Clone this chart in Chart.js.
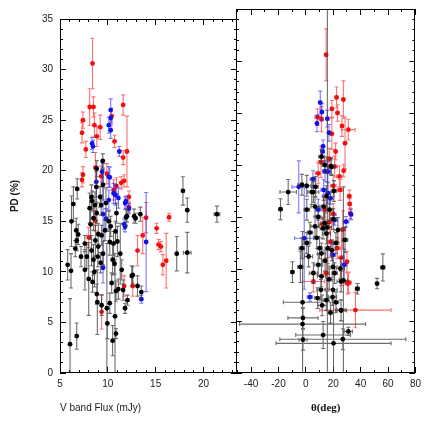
<!DOCTYPE html>
<html><head><meta charset="utf-8">
<script src="https://cdn.jsdelivr.net/npm/chart.js@4.4.0/dist/chart.umd.min.js"></script>
<style>
html,body{margin:0;padding:0;background:#fff;}
#wrap{position:relative;width:432px;height:432px;background:#fff;}
canvas{position:absolute;left:0;top:0;}
</style></head><body>
<div id="wrap"><canvas id="left" width="432" height="432"></canvas><canvas id="right" width="432" height="432"></canvas></div>
<script>
// ---- axis ticks ----
const pdTicks = [0, 5, 10, 15, 20, 25, 30, 35];
const pdMinor = [1,2,3,4,6,7,8,9,11,12,13,14,16,17,18,19,21,22,23,24,26,27,28,29,31,32,33,34];
const fluxTicks = [5, 10, 15, 20];
const fluxMinor = [6,7,8,9,11,12,13,14,16,17,18,19,21,22,23];
const thetaTicks = [-40, -20, 0, 20, 40, 60, 80];
const thetaMinor = [-50, -30, -10, 10, 30, 50, 70];

// ---- left panel: [flux (mJy), PD (%), flux err, PD err] ----
const fluxBlack = [
[9.47,20.96,0,0.7],[8.84,20.2,0,0.8],[6.8,18.2,0,1.0],[8.8,18.4,0,1.5],[9.5,18.6,0,1.5],
[6.4,16.7,0,1.7],[6.2,15.0,0,2.5],[8.3,17.4,0,1.2],[8.35,17.0,0,1.0],[8.1,16.3,0,1.5],
[8.65,16.6,0,1.3],[9.3,16.6,0,1.0],[8.84,15.8,0,1.0],[8.5,15.3,0,1.2],[8.2,14.7,0,1.5],
[6.7,14.1,0,1.2],[6.9,13.7,0,1.0],[6.75,13.1,0,1.0],[6.6,12.3,0,0.8],[5.8,10.7,0,1.5],
[6.15,10.1,0,1.7],[7.6,12.8,0,0.8],[7.8,11.5,0,1.2],[7.6,10.2,0,2.0],[8.0,9.3,0,3.6],
[8.3,12.1,0,1.5],[8.5,11.2,0,1.5],[8.6,10.0,0,1.5],[8.7,13.1,0,1.5],[9.0,13.75,0,1.0],
[9.35,13.6,0,1.0],[9.5,11.8,0,1.2],[9.25,10.9,0,1.0],[9.7,14.1,0,1.0],[10.1,15.0,0,1.0],
[10.2,12.95,0,1.3],[10.6,12.8,0,1.2],[10.5,11.2,0,1.5],[10.4,8.9,0,1.0],[11.1,8.3,0,1.0],
[11.3,11.8,0,3.0],[8.85,7.8,0,1.0],[8.9,7.0,0,3.2],[9.35,6.7,0,1.0],[9.9,6.4,0,6.4],
[9.95,4.9,0,1.5],[10.2,6.9,0,1.0],[10.75,5.6,0,5.6],[10.5,3.2,0,1.5],[10.85,3.9,0,0.5],
[11.8,6.4,0,0.5],[12.05,7.2,0,0.5],[12.5,9.6,0,1.0],[13.1,8.6,0,1.0],[13.5,8.0,0,0.6],
[6.05,2.85,0,4.5],[6.75,3.65,0,1.3],[12.0,15.5,0,0.6],[12.75,15.5,0,0.7],[13.4,15.7,0,0.7],
[12.9,15.3,0,0.5],[11.9,15.4,0,0.8],[17.85,18.0,0,1.4],[18.3,16.1,0,1.2],[21.4,15.7,0.3,0.8],
[17.2,11.8,0,1.7],[18.3,11.9,0.4,2.0],[11.45,10.2,0,1.0],[10.7,10.8,0,1.0],[10.85,8.1,0,1.0],
[11.6,8.2,0,1.0],[12.6,9.7,0,0.8],[7.2,11.5,0,1.0],[9.2,17.4,0,1.0],[9.8,16.8,0,1.5],
[10.3,14.5,0,1.0],[9.0,12.5,0,1.0],[8.4,9.0,0,1.0],[8.95,11.5,0,1.0],[10.8,14.0,0,1.0],
[11.0,13.0,0,1.5],[10.9,15.8,0,1.0]
];
const fluxRed = [
[8.4,30.6,0,2.5],[8.1,26.3,0,1.8],[8.5,26.3,0,1.0],[7.4,25.0,0,0.8],[7.3,23.75,0,1.0],
[7.7,22.1,0,0.8],[8.6,24.5,0,1.2],[8.85,23.4,0,1.0],[9.2,24.3,0,1.2],[11.6,26.5,0,1.0],
[10.4,25.4,0,0.8],[10.7,22.9,0,0.6],[11.6,21.3,0,0.7],[12.0,21.9,0,3.5],[7.3,19.1,0,0.7],
[7.4,19.6,0,0.8],[8.7,20.3,0,1.5],[9.3,19.45,0,1.0],[9.9,19.7,0,1.0],[11.7,19.0,0,0.6],
[11.4,18.8,0,0.6],[12.2,17.4,0,0.6],[9.35,6.05,0,1.7],[11.7,8.6,0,1.0],[12.6,8.6,0,1.0],
[13.1,12.1,0,1.5],[13.65,13.6,0,1.8],[14.0,15.35,0,1.5],[15.1,14.3,0,0.5],[16.4,15.4,0,0.4],
[15.3,12.7,0,0.5],[15.55,12.5,0,0.5],[15.75,10.7,0,1.0],[16.1,11.1,0,2.7],[10.6,18.1,0,1.0],
[8.7,15.05,0,1.0],[8.0,13.4,0,1.0],[12.2,16.4,0,0.5],[10.9,18.5,0,0.8]
];
const fluxBlue = [
[10.3,26.0,0,1.1],[10.3,25.2,0,0.8],[10.1,24.5,0,0.8],[10.3,24.0,0,0.8],[8.35,22.7,0,0.6],
[8.45,22.4,0,0.6],[11.2,21.9,0,0.5],[8.8,18.9,0,1.5],[9.4,19.9,0,1.0],[10.1,19.4,0,1.0],
[11.9,17.0,0,0.5],[14.0,12.95,0,4.9],[13.5,7.3,0,0.4],[11.8,14.45,0,0.5],[12.2,16.25,0,0.5],
[11.1,17.3,0,1.0],[9.8,15.25,0,1.0],[9.5,15.7,0,5.0],[10.1,17.1,0,1.0],[10.8,17.6,0,1.0],
[10.2,19.35,0,1.0],[10.6,17.75,0,1.0],[11.8,16.8,0,0.6],[11.7,14.7,0,0.5],[9.5,10.4,0,1.5]
];

// ---- right panel: [theta (deg), PD (%), theta err, PD err] ----
const thetaBlack = [
[11.4,20.8,2,0.7],[18.3,19.9,3,0.8],[-2.9,18.1,3,1.0],[0.7,18.0,3,1.0],[5.5,17.4,4,1.0],
[-12.9,17.4,6,1.2],[-18.5,15.75,1,1.0],[-9.8,9.7,1,1.0],[-4,10.2,2,1.5],[-2.9,12.0,2,1.0],
[-2.4,6.8,14,6.8],[-2.4,4.7,46,1.5],[12.6,3.65,20,1.3],[27,3.25,46,1.0],[20.2,2.85,42,4.5],
[-2.1,5.3,11,1.0],[31,4.0,3,0.4],[52,8.6,1,0.5],[56.2,10.15,1.5,1.3],[37.6,8.1,1.5,0.5],
[25.7,6.0,4,1.0],[19.5,7.3,3,0.8],[27.4,8.9,3,9],[28.6,12.8,2,1.2],[15.7,14,3,25],
[0.7,15.7,2,1],[4.3,17.4,3,1.2],[7.1,17.9,2,1],[6.7,16.0,3,1],[13.8,20.0,2,0.8],
[15,17.0,3,1],[18.6,19.8,2,0.8],[17.4,15.7,3,1],[13.8,14.4,3,1],[6.7,14.1,3,1],
[15,13.4,3,1],[23.4,13.75,3,1.2],[0.7,12.5,2,1],[2.0,11.2,3,1],[11.4,11.5,3,1],
[19,11.8,3,1],[19.8,10.2,3,1],[25.2,10.05,3,1],[9,10.4,3,1],[5.5,9.6,3,1],
[11.4,9.3,3,1],[25.7,8.8,3,1],[11,8.0,3,1],[11.9,6.5,3,1],[19.8,8.0,3,1],
[25.7,6.05,3,1],[-2.1,3.2,3,1],[8,13.0,2,1],[9,15.0,2,1],[13,16.0,2,1],
[16,12.0,2,1.5],[20,14.8,2,1],[22,12.5,2,1],[10,12.0,2,1],[14,10.8,2,1],
[17,9.0,2,1],[21,9.6,2,1],[8.5,7.2,2,1],[15,7.0,2,1],[18,5.8,2,1],
[22,6.8,2,1],[3,13.5,2,1],[12.5,13.9,2,1],[20.5,17.5,2,1]
];
const thetaRed = [
[14.8,30.6,1,2.5],[22.4,26.5,1,1.0],[27.4,26.3,1,1.8],[19.0,25.4,1,0.8],[23.1,25.0,1,0.8],
[8.6,24.6,2,0.8],[11.4,24.4,1,1.2],[26.4,23.75,1,1.0],[31,23.4,5,1.0],[28.6,22.1,1,2.5],
[19,23.0,1,1.5],[21.7,21.3,1,0.8],[11,20.3,2,1.5],[27.6,19.45,1,0.6],[31.7,17.0,1,0.6],
[9,19.2,2,1],[21,19.85,2,1],[24.5,18.9,2,1],[32,16.25,1,0.5],[32.4,15.35,1,0.5],
[13.8,15.7,2,1],[30,10.7,1,1],[30.5,8.6,2,1],[5.5,8.8,8,1],[36.2,6.05,26,1.7],
[31.2,8.7,2,1],[20,18.0,2,1],[17,14.5,2,1],[18,12.6,2,1.5],[23,12.0,2,1],
[17,20.6,2,1],[25,17.6,2,1],[20,15.3,2,1],[27,13.8,2,1.8],[26,11.1,2,2.7],
[12,14.3,2,0.5],[15,9.6,2,1.5]
];
const thetaBlue = [
[10.5,26.0,1,1.1],[11.7,25.1,1,0.8],[15.7,24.45,1,0.8],[8.1,24.0,1,0.8],[16.9,23.1,1,0.8],
[12.6,21.8,1,0.6],[12.2,21.3,1,0.6],[-5.2,17.9,5,2.5],[5.2,18.65,2,0.8],[-1.2,12.95,7,4.9],
[3,7.3,2,0.4],[16.2,17.3,2,1],[28,10.4,2,1.5],[29.3,14.55,2,0.5],[33,15.25,1,0.5],
[19.8,11.35,2,1],[14,19.4,2,1],[18,16.8,2,0.6],[13,17.6,2,1],[21,14.7,2,0.5],
[9,15.7,2,1],[16,19.35,2,1]
];

const SANS = "'Liberation Sans', Arial, Helvetica, sans-serif";
const toPts = arr => arr.map(r => ({x: r[0], y: r[1], ex: r[2], ey: r[3]}));

const errorBars = {
  id: 'errorBars',
  beforeDatasetDraw(chart, args) {
    const ds = chart.data.datasets[args.index];
    const xs = chart.scales.x, ys = chart.scales.y, a = chart.chartArea, ctx = chart.ctx;
    ctx.save();
    ctx.beginPath(); ctx.rect(a.left, a.top, a.right - a.left, a.bottom - a.top); ctx.clip();
    ctx.strokeStyle = ds.errorColor; ctx.lineWidth = 1.1;
    const cap = 2;
    ctx.beginPath();
    ds.data.forEach(p => {
      const px = xs.getPixelForValue(p.x), py = ys.getPixelForValue(p.y);
      if (p.ey) {
        const y1 = ys.getPixelForValue(p.y - p.ey), y2 = ys.getPixelForValue(p.y + p.ey);
        ctx.moveTo(px, y1); ctx.lineTo(px, y2);
        ctx.moveTo(px - cap, y1); ctx.lineTo(px + cap, y1);
        ctx.moveTo(px - cap, y2); ctx.lineTo(px + cap, y2);
      }
      if (p.ex) {
        const x1 = xs.getPixelForValue(p.x - p.ex), x2 = xs.getPixelForValue(p.x + p.ex);
        ctx.moveTo(x1, py); ctx.lineTo(x2, py);
        ctx.moveTo(x1, py - cap); ctx.lineTo(x1, py + cap);
        ctx.moveTo(x2, py - cap); ctx.lineTo(x2, py + cap);
      }
    });
    ctx.stroke();
    ctx.restore();
  }
};

const frame = {
  id: 'frame',
  afterDraw(chart) {
    const {ctx, chartArea: a} = chart;
    const L = Math.round(a.left), R = Math.round(a.right), T = Math.round(a.top), B = Math.round(a.bottom);
    ctx.save();
    ctx.fillStyle = '#000';
    ctx.fillRect(L, T, R - L, 1);
    ctx.fillRect(L, B - 1, R - L, 1);
    ctx.fillRect(L, T, 1, B - T);
    ctx.fillRect(R - 1, T, 1, B - T);
    ctx.restore();
  }
};

// tick-mark-only axis (inward ticks, no labels, zero size)
function tickAxis(position, min, max, values, len) {
  return {
    type: 'linear', position, min, max, weight: -1,
    grid: {display: true, drawOnChartArea: false, drawTicks: true, tickLength: -len,
      tickColor: '#000', tickWidth: 1, color: '#000', lineWidth: 1},
    border: {display: false},
    ticks: {display: false},
    afterBuildTicks: s => { s.ticks = values.map(v => ({value: v})); },
    afterFit: s => { if (s.isHorizontal()) s.height = 0; else s.width = 0; }
  };
}

const tickGrid = {display: true, drawOnChartArea: false, drawTicks: true, tickLength: -6,
  tickColor: '#000', tickWidth: 1, color: '#000', lineWidth: 1};

function datasets(black, red, blue) {
  return [
    {data: toPts(black), backgroundColor: '#000', borderColor: '#000', errorColor: 'rgba(60,60,60,0.75)', pointRadius: 2.4, borderWidth: 0},
    {data: toPts(blue), backgroundColor: '#1010f0', borderColor: '#1010f0', errorColor: 'rgba(30,30,255,0.6)', pointRadius: 2.4, borderWidth: 0},
    {data: toPts(red), backgroundColor: '#f01010', borderColor: '#f01010', errorColor: 'rgba(255,20,20,0.6)', pointRadius: 2.4, borderWidth: 0}
  ];
}

const common = {
  responsive: false, animation: false, devicePixelRatio: 1,
  plugins: {legend: {display: false}, tooltip: {enabled: false}}
};

new Chart(document.getElementById('left'), {
  type: 'scatter',
  data: {datasets: datasets(fluxBlack, fluxRed, fluxBlue)},
  plugins: [errorBars, frame],
  options: Object.assign({}, common, {
    layout: {padding: {left: 0, right: 195, top: 9, bottom: 0}},
    scales: {
      x: {type: 'linear', position: 'bottom', min: 5, max: 23.5, weight: 0,
        grid: tickGrid, border: {display: false},
        afterBuildTicks: s => { s.ticks = fluxTicks.map(v => ({value: v})); },
        afterFit: s => { s.height = 59; },
        ticks: {font: {size: 10, family: SANS}, color: '#222', padding: 11, maxRotation: 0, autoSkip: false},
        title: {display: true, text: 'V band Flux (mJy)', align: 'start', color: '#222',
          font: {size: 10, family: SANS}, padding: {top: 0, bottom: 18}}},
      y: {type: 'linear', position: 'left', min: 0, max: 35, weight: 0,
        grid: tickGrid, border: {display: false},
        afterBuildTicks: s => { s.ticks = pdTicks.map(v => ({value: v})); },
        afterFit: s => { s.width = 60; },
        ticks: {font: {size: 10, family: SANS}, color: '#222', padding: 13},
        title: {display: true, text: 'PD (%)', color: '#111',
          font: {size: 10, family: SANS, weight: 'bold'}, padding: {top: 9, bottom: 0}}},
      xm: tickAxis('bottom', 5, 23.5, fluxMinor, 3),
      xt: tickAxis('top', 5, 23.5, fluxTicks, 6),
      xtm: tickAxis('top', 5, 23.5, fluxMinor, 3),
      ym: tickAxis('left', 0, 35, pdMinor, 3),
      yr: tickAxis('right', 0, 35, pdTicks, 6),
      yrm: tickAxis('right', 0, 35, pdMinor, 3)
    }
  })
});

new Chart(document.getElementById('right'), {
  type: 'scatter',
  data: {datasets: datasets(thetaBlack, thetaRed, thetaBlue)},
  plugins: [errorBars, frame],
  options: Object.assign({}, common, {
    layout: {padding: {left: 236, right: 10, top: 9, bottom: 0}},
    scales: {
      x: {type: 'linear', position: 'bottom', min: -51, max: 80, weight: 0,
        grid: tickGrid, border: {display: false},
        afterBuildTicks: s => { s.ticks = thetaTicks.map(v => ({value: v})); },
        afterFit: s => { s.height = 59; },
        ticks: {font: {size: 10, family: SANS}, color: '#222', padding: 11, maxRotation: 0, autoSkip: false},
        title: {display: true, text: 'θ(deg)', color: '#111',
          font: {size: 11, family: "'Liberation Serif', 'DejaVu Serif', serif", weight: 'bold'}, padding: {top: 0, bottom: 17}}},
      y: {type: 'linear', position: 'left', min: 0, max: 35, weight: 0,
        grid: tickGrid, border: {display: false},
        ticks: {display: false},
        afterBuildTicks: s => { s.ticks = pdTicks.map(v => ({value: v})); },
        afterFit: s => { s.width = 0; }},
      xm: tickAxis('bottom', -51, 80, thetaMinor, 3),
      xt: tickAxis('top', -51, 80, thetaTicks, 6),
      xtm: tickAxis('top', -51, 80, thetaMinor, 3),
      ym: tickAxis('left', 0, 35, pdMinor, 3),
      yr: tickAxis('right', 0, 35, pdTicks, 6),
      yrm: tickAxis('right', 0, 35, pdMinor, 3)
    }
  })
});
</script>
</body></html>
